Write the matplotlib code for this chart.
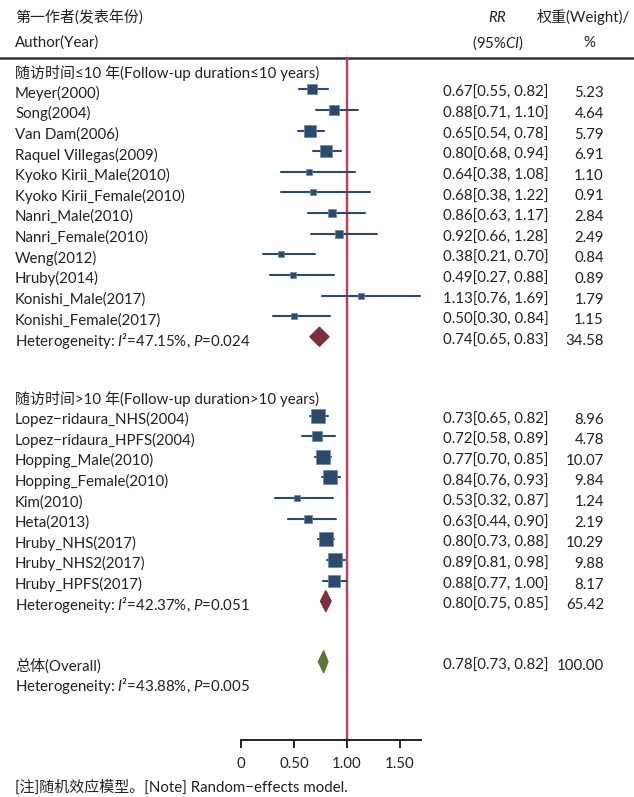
import numpy as np
import matplotlib
matplotlib.use("Agg")
import matplotlib.pyplot as plt
from matplotlib.patches import Polygon

plt.rcParams["font.family"] = ["Lato", "Noto Sans CJK SC", "DejaVu Sans"]
plt.rcParams["mathtext.fontset"] = "custom"
plt.rcParams["mathtext.rm"] = "Lato"
plt.rcParams["mathtext.it"] = "Lato:italic"

# ── Daten ────────────────────────────────────────────────────────────────────
studien_1 = ["Meyer(2000)", "Song(2004)", "Van Dam(2006)", "Raquel Villegas(2009)",
             "Kyoko Kirii_Male(2010)", "Kyoko Kirii_Female(2010)", "Nanri_Male(2010)",
             "Nanri_Female(2010)", "Weng(2012)", "Hruby(2014)", "Konishi_Male(2017)",
             "Konishi_Female(2017)"]
rr_1 = [0.67, 0.88, 0.65, 0.80, 0.64, 0.68, 0.86, 0.92, 0.38, 0.49, 1.13, 0.50]
lo_1 = [0.55, 0.71, 0.54, 0.68, 0.38, 0.38, 0.63, 0.66, 0.21, 0.27, 0.76, 0.30]
hi_1 = [0.82, 1.10, 0.78, 0.94, 1.08, 1.22, 1.17, 1.28, 0.70, 0.88, 1.69, 0.84]
gew_1 = [5.23, 4.64, 5.79, 6.91, 1.10, 0.91, 2.84, 2.49, 0.84, 0.89, 1.79, 1.15]

studien_2 = ["Lopez−ridaura_NHS(2004)", "Lopez−ridaura_HPFS(2004)", "Hopping_Male(2010)",
             "Hopping_Female(2010)", "Kim(2010)", "Heta(2013)", "Hruby_NHS(2017)",
             "Hruby_NHS2(2017)", "Hruby_HPFS(2017)"]
rr_2 = [0.73, 0.72, 0.77, 0.84, 0.53, 0.63, 0.80, 0.89, 0.88]
lo_2 = [0.65, 0.58, 0.70, 0.76, 0.32, 0.44, 0.73, 0.81, 0.77]
hi_2 = [0.82, 0.89, 0.85, 0.93, 0.87, 0.90, 0.88, 0.98, 1.00]
gew_2 = [8.96, 4.78, 10.07, 9.84, 1.24, 2.19, 10.29, 9.88, 8.17]

# gepoolte Schätzer: Gruppe 1, Gruppe 2, Gesamt
pool_rr = [0.74, 0.80, 0.78]
pool_lo = [0.65, 0.75, 0.73]
pool_hi = [0.83, 0.85, 0.82]
pool_gew = [34.58, 65.42, 100.00]
pool_het = [r"Heterogeneity: $\mathit{I}$²=47.15%, $\mathit{P}$=0.024",
            r"Heterogeneity: $\mathit{I}$²=42.37%, $\mathit{P}$=0.051",
            r"Heterogeneity: $\mathit{I}$²=43.88%, $\mathit{P}$=0.005"]

achse_ticks = [0, 0.5, 1.0, 1.5]
achse_labels = ["0", "0.50", "1.00", "1.50"]

# ── Layout (Pixel) ───────────────────────────────────────────────────────────
W, H = 634, 797
SCHRITT = 20.62
y_titel_1 = 68.7
y_1 = [y_titel_1 + SCHRITT * (i + 1) for i in range(len(studien_1))]
y_het_1 = y_titel_1 + SCHRITT * (len(studien_1) + 1)
y_titel_2 = 395.0
y_2 = [y_titel_2 + SCHRITT * (i + 1) for i in range(len(studien_2))]
y_het_2 = y_titel_2 + SCHRITT * (len(studien_2) + 1)
y_gesamt = 661.7

X_TEXT, X_CI, X_GEW = 15, 443, 604
FS = 10.8
BLAU = "#2b4b6c"
ROT = "#7c2f3d"
GRUEN = "#5a7639"
LINIE = "#c63b50"

fig = plt.figure(figsize=(W / 100, H / 100), dpi=100)
bg = fig.add_axes([0, 0, 1, 1])
bg.set_xlim(0, W)
bg.set_ylim(H, 0)
bg.axis("off")

# Forest-Achse: x in RR, y in Pixelzeilen
AX_L, AX_R, AX_T, AX_B = 241, 420.7, 58, 740
ax = fig.add_axes([AX_L / W, 1 - AX_B / H, (AX_R - AX_L) / W, (AX_B - AX_T) / H])
ax.set_xlim(0, 1.695)
ax.set_ylim(AX_B, AX_T)
ax.patch.set_visible(False)
for s in ["top", "right", "left"]:
    ax.spines[s].set_visible(False)
ax.spines["bottom"].set_linewidth(1.4)
ax.spines["bottom"].set_color("#222222")
ax.set_yticks([])
ax.set_xticks(achse_ticks)
ax.set_xticklabels(achse_labels, fontsize=FS, color="#222222")
ax.tick_params(axis="x", length=6, width=1.4, color="#222222", pad=6)

ax.axvline(1.0, color=LINIE, lw=1.7, zorder=1)


def zeichne_studien(ys, rr, lo, hi, gew):
    for y, r, l, h, g in zip(ys, rr, lo, hi, gew):
        seite = 1.7 + 3.9 * np.sqrt(g)
        ax.plot([l, h], [y, y], color=BLAU, lw=1.5, solid_capstyle="round",
                zorder=3, clip_on=False)
        ax.plot(r, y, marker="s", ms=seite * 0.72, color=BLAU, mec="#6b86a3",
                mew=0.5, zorder=4, clip_on=False)


def zeichne_raute(y, r, l, h, farbe, hoehe):
    ax.add_patch(Polygon([(l, y), (r, y - hoehe / 2), (h, y), (r, y + hoehe / 2)],
                         closed=True, fc=farbe, ec=farbe, lw=1.0, zorder=4))


zeichne_studien(y_1, rr_1, lo_1, hi_1, gew_1)
zeichne_studien(y_2, rr_2, lo_2, hi_2, gew_2)
zeichne_raute(y_het_1, pool_rr[0], pool_lo[0], pool_hi[0], ROT, 19)
zeichne_raute(y_het_2, pool_rr[1], pool_lo[1], pool_hi[1], ROT, 21)
zeichne_raute(y_gesamt, pool_rr[2], pool_lo[2], pool_hi[2], GRUEN, 22)

# ── Texte ────────────────────────────────────────────────────────────────────
DY = 4
txt = dict(fontsize=FS, color="#222222", va="center")

bg.text(X_TEXT, 17, "第一作者(发表年份)", **txt)
bg.text(X_TEXT, 43, "Author(Year)", **txt)
bg.text(497, 17, r"$\mathit{RR}$", ha="center", **txt)
bg.text(498, 43, r"(95%$\mathit{CI}$)", ha="center", **txt)
bg.text(537, 17, "权重(Weight)/", **txt)
bg.text(589, 43, "%", ha="center", **txt)
bg.plot([0, W], [58, 58], color="#333333", lw=1.8)


def zeile(y, name, r=None, l=None, h=None, g=None):
    bg.text(X_TEXT, y + DY, name, **txt)
    if r is not None:
        bg.text(X_CI, y + DY, f"{r:.2f}[{l:.2f}, {h:.2f}]", **txt)
        bg.text(X_GEW, y + DY, f"{g:.2f}", ha="right", **txt)


zeile(y_titel_1, "随访时间≤10 年(Follow-up duration≤10 years)")
for y, n, r, l, h, g in zip(y_1, studien_1, rr_1, lo_1, hi_1, gew_1):
    zeile(y, n, r, l, h, g)
zeile(y_het_1, pool_het[0], pool_rr[0], pool_lo[0], pool_hi[0], pool_gew[0])

zeile(y_titel_2, "随访时间>10 年(Follow-up duration>10 years)")
for y, n, r, l, h, g in zip(y_2, studien_2, rr_2, lo_2, hi_2, gew_2):
    zeile(y, n, r, l, h, g)
zeile(y_het_2, pool_het[1], pool_rr[1], pool_lo[1], pool_hi[1], pool_gew[1])

zeile(y_gesamt, "总体(Overall)", pool_rr[2], pool_lo[2], pool_hi[2], pool_gew[2])
zeile(y_gesamt + SCHRITT, pool_het[2])

bg.text(X_TEXT, 787, "[注]随机效应模型。[Note] Random−effects model.", **txt)

plt.savefig("out.png", dpi=100)
plt.close()
